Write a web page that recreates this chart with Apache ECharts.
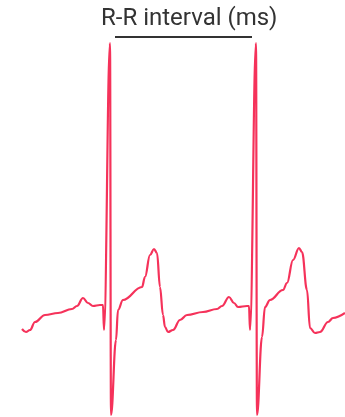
<!DOCTYPE html>
<html>
<head>
<meta charset="utf-8">
<style>
  html, body { margin: 0; padding: 0; background: #fff; }
  #chart { width: 345px; height: 417px; }
</style>
<script src="https://cdn.jsdelivr.net/npm/echarts@6/dist/echarts.min.js"></script>
</head>
<body>
<div id="chart"></div>
<script>
// ECG trace, time in ms, amplitude in mV
var timeMs = [110, 130, 150, 175, 225, 290, 360, 385, 415, 440, 465, 500, 515,
  520, 550, 555, 580, 590, 615, 710, 725, 750, 770, 785, 800, 815, 825,
  840, 865, 900, 935, 1015, 1085, 1110, 1145, 1170, 1190, 1235, 1245,
  1250, 1280, 1285, 1310, 1325, 1350, 1415, 1435, 1465, 1495, 1510, 1535, 1550,
  1575, 1600, 1640, 1665, 1725];
var voltage = [-0.11, -0.125, -0.115, -0.075, -0.04, -0.03, -0.01, 0.005, 0.045, 0.02, 0.005, 0.01, 0.01,
  -0.115, 1.32, -0.54, -0.165, -0.015, 0.035, 0.10, 0.15, 0.26, 0.29, 0.27, 0.10, -0.04, -0.10,
  -0.125, -0.115, -0.065, -0.04, -0.025, -0.01, 0.005, 0.05, 0.02, 0, 0.005, 0.005,
  -0.115, 1.32, -0.54, -0.15, 0, 0.035, 0.085, 0.12, 0.235, 0.295, 0.275, 0.085, -0.105,
  -0.13, -0.125, -0.075, -0.055, -0.03];

// R-R interval bracket
var rrTime = [575, 1260];
var rrLevel = [1.35, 1.35];

var chart = echarts.init(document.getElementById('chart'));

var ecg = timeMs.map(function (t, i) { return [t, voltage[i]]; });
var rr = rrTime.map(function (t, i) { return [t, rrLevel[i]]; });

chart.setOption({
  animation: false,
  title: {
    text: 'R-R interval (ms)',
    left: 96,
    top: 2,
    textStyle: {
      fontFamily: 'Roboto',
      fontSize: 24,
      fontWeight: 'normal',
      color: '#333'
    }
  },
  grid: { left: 0, right: 0, top: 0, bottom: 0 },
  xAxis: { type: 'value', min: 0, max: 1725, show: false },
  yAxis: { type: 'value', min: -0.55, max: 1.535, show: false },
  series: [{
    type: 'line',
    data: ecg,
    showSymbol: false,
    smooth: 0.4,
    smoothMonotone: 'x',
    lineStyle: { color: '#f5325a', width: 2.2 }
  }, {
    type: 'line',
    data: rr,
    showSymbol: false,
    lineStyle: { color: '#333', width: 2 }
  }]
});
</script>
</body>
</html>
